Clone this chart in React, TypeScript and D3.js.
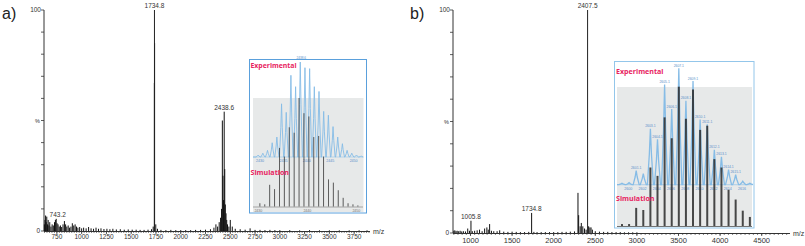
import * as d3 from "d3"

// ---- panel a: main spectrum [m/z, %] ----
const spectrumA: [number, number][] = [
  [624, 3], [630, 5], [636, 7], [642, 4], [648, 6.5], [655, 3], [662, 5], [670, 2.5], [678, 4], [690, 2],
  [702, 3], [714, 2.5], [726, 4], [735, 5], [743.2, 5.5], [752, 3.5], [762, 3], [774, 2], [786, 2.5], [798, 1.8],
  [812, 3], [826, 4.5], [838, 3], [850, 2], [864, 2.5], [878, 1.5], [892, 2], [906, 3.5], [920, 2.5], [934, 3],
  [948, 2], [962, 1.5], [980, 1.8], [1000, 1.2], [1020, 1.5], [1045, 1.2], [1070, 1.8], [1095, 1.2], [1120, 1],
  [1145, 1.5], [1170, 1], [1195, 1.2], [1225, 0.9], [1255, 1], [1285, 0.8], [1315, 1], [1350, 0.7], [1390, 0.8],
  [1430, 0.6], [1470, 0.7], [1510, 0.6], [1550, 0.6], [1590, 0.5], [1630, 0.5], [1670, 0.6], [1705, 0.8], [1722, 2],
  [1733.8, 67], [1736.2, 85], [1734.8, 100], [1748, 3], [1765, 1], [1800, 0.5], [1850, 0.4], [1900, 0.5], [1950, 0.4],
  [2000, 0.4], [2050, 0.4], [2100, 0.4], [2150, 0.5], [2200, 0.5], [2250, 0.6], [2300, 0.8], [2335, 1.5], [2355, 3],
  [2372, 2], [2388, 4], [2402, 6], [2412, 10], [2420, 50], [2426, 25], [2432, 14], [2438.6, 54], [2444, 28],
  [2450, 12], [2457, 8], [2464, 5], [2472, 3], [2486, 2], [2500, 5], [2520, 2], [2550, 1], [2600, 0.8], [2650, 0.6],
  [2700, 1.2], [2750, 0.5], [2800, 0.5], [2850, 0.4], [2900, 0.5], [2950, 0.4], [3000, 0.4], [3100, 0.4],
  [3200, 0.3], [3300, 0.4], [3400, 0.3], [3500, 0.3], [3600, 0.3], [3700, 0.3], [3800, 0.3], [3880, 0.3],
]
const peakLabelsA = ["743.2", "1734.8", "2438.6"]
const ticksA = [750, 1000, 1250, 1500, 1750, 2000, 2250, 2500, 2750, 3000, 3250, 3500, 3750]

// ---- panel b: main spectrum [m/z, %] ----
const spectrumB: [number, number][] = [
  [800, 1], [812, 1.2], [826, 0.8], [840, 1], [858, 0.8], [876, 1], [895, 0.7], [915, 0.8], [940, 0.7], [967, 2],
  [988, 1], [1005.8, 5.5], [1022, 0.8], [1050, 1], [1080, 1.2], [1109, 1.5], [1140, 0.8], [1170, 2], [1197, 2.5],
  [1214, 1.5], [1230, 4], [1252, 1], [1280, 0.8], [1320, 0.8], [1351, 1.2], [1400, 0.6], [1450, 0.5], [1500, 0.6],
  [1550, 0.5], [1600, 0.4], [1650, 0.4], [1700, 0.5], [1734.8, 9], [1762, 0.5], [1800, 0.4], [1850, 0.4], [1900, 0.4],
  [1950, 0.4], [2000, 0.4], [2050, 0.4], [2100, 0.5], [2150, 0.5], [2200, 0.6], [2250, 0.7], [2292, 18], [2300, 8],
  [2318, 3], [2332, 4.5], [2350, 3], [2370, 2], [2390, 1.5], [2407.5, 100], [2420, 3], [2435, 2.5], [2449, 2.5],
  [2465, 1.5], [2500, 0.8], [2550, 0.6], [2600, 0.5], [2650, 0.5], [2700, 0.4], [2750, 0.4], [2800, 0.4],
  [2850, 0.3], [2900, 0.3], [2950, 0.3], [3000, 0.3],
]
const peakLabelsB = ["1005.8", "1734.8", "2407.5"]
const ticksB = [1000, 1500, 2000, 2500, 3000, 3500, 4000, 4500]

// ---- inset a: isotope pattern ----
const insetAExpMz = [2429.6, 2430.6, 2431.6, 2432.6, 2433.6, 2434.6, 2435.6, 2436.6, 2437.6, 2438.6, 2439.6, 2440.6,
  2441.6, 2442.6, 2443.6, 2444.6, 2445.6, 2446.6, 2447.6, 2448.6, 2449.6, 2450.6, 2451.6]
const insetAExp = [2, 4, 7, 15, 21, 56, 47, 86, 74, 100, 94, 93, 74, 69, 48, 44, 32, 21, 14, 7, 4, 2, 1]
const insetASimMz = [2430.3, 2431.3, 2432.3, 2433.3, 2434.3, 2435.3, 2436.3, 2437.3, 2438.3, 2439.3, 2440.3,
  2441.3, 2442.3, 2443.3, 2444.3, 2445.3, 2446.3, 2447.3, 2448.3, 2449.3, 2450.3]
const insetASim = [3, 2, 20, 16, 54, 46, 73, 68, 100, 86, 83, 64, 65, 46, 25, 22, 15, 8, 3, 2, 1]
const insetAExpTicks = [2430, 2435, 2440, 2445, 2450]
const insetASimTicks = [2430, 2440, 2450]

// ---- inset b: isotope pattern ----
const insetBMz = [2599.1, 2600.1, 2601.1, 2602.1, 2603.1, 2604.1, 2605.1, 2606.1, 2607.1, 2608.1, 2609.1,
  2610.1, 2611.1, 2612.1, 2613.1, 2614.1, 2615.1, 2616.1, 2617.1]
const insetBExp = [1.3, 1.7, 12, 9.5, 48, 39, 86, 65, 100, 72, 89, 56, 52, 30, 24, 13, 8.6, 3, 1.3]
const insetBSim = [1.4, 1.4, 13, 11.5, 42, 36, 78, 63, 100, 77, 98, 69, 72, 48, 42, 26, 19, 11, 6.5]
const insetBLabelled = [2601.1, 2603.1, 2604.1, 2605.1, 2606.1, 2607.1, 2608.1, 2609.1, 2610.1, 2611.1,
  2612.1, 2613.1, 2614.1, 2615.1]
const insetBTicks = [2600, 2602, 2604, 2606, 2608, 2610, 2612, 2614, 2616]

const AX = "#333"
const PINK = "#e8245f"
const EXP = "#86bce6"
const SANS = "Liberation Sans, Arial, sans-serif"
const INSET_FONT = "Open Sans, Noto Sans, sans-serif"

type Panel = {
  data: [number, number][]
  labels: string[]
  ticks: number[]
  domain: [number, number]
  xRange: [number, number]
  yRange: [number, number]
  minorStep: number
  tickFont: number
  tickDy: number
}

function Spectrum({ data, labels, ticks, domain, xRange, yRange, minorStep, tickFont, tickDy }: Panel) {
  const x = d3.scaleLinear().domain(domain).range(xRange)
  const y = d3.scaleLinear().domain([0, 100]).range(yRange)
  const base = y(0)
  const minor = d3.range(Math.ceil(domain[0] / minorStep) * minorStep, domain[1], minorStep)
  const yTicks = d3.range(0, 101, 10)
  return (
    <g>
      {/* y axis */}
      <line x1={xRange[0]} x2={xRange[0]} y1={y(100)} y2={base} stroke={AX} strokeWidth={1} />
      {yTicks.map((t) => (
        <line key={t} x1={xRange[0] - 3} x2={xRange[0]} y1={y(t)} y2={y(t)} stroke={AX} strokeWidth={0.8} />
      ))}
      <text x={xRange[0] - 3} y={y(100) + 2.2} fontSize={6.5} textAnchor="end" fill={AX}>100</text>
      <text x={xRange[0] - 4} y={y(50) + 2.2} fontSize={5.5} textAnchor="end" fill={AX}>%</text>
      <text x={xRange[0] - 4} y={base + 2.2} fontSize={6.5} textAnchor="end" fill={AX}>0</text>
      {/* x axis */}
      <line x1={xRange[0]} x2={xRange[1]} y1={base + 0.5} y2={base + 0.5} stroke={AX} strokeWidth={1} />
      {minor.map((t) => (
        <line key={t} x1={x(t)} x2={x(t)} y1={base} y2={base + 2} stroke={AX} strokeWidth={0.6} />
      ))}
      {ticks.map((t) => (
        <g key={t}>
          <line x1={x(t)} x2={x(t)} y1={base} y2={base + 3} stroke={AX} strokeWidth={0.8} />
          <text x={x(t)} y={base + tickDy} fontSize={tickFont} textAnchor="middle" fill={AX}>{t}</text>
        </g>
      ))}
      <text x={xRange[1] + 3} y={base + 2.5} fontSize={7} fill={AX}>m/z</text>
      {/* sticks */}
      {data.map(([m, v], i) => (
        <line key={i} x1={x(m)} x2={x(m)} y1={base} y2={y(v)} stroke={v > 80 ? "#222" : "#111"} strokeWidth={1} />
      ))}
      {labels.map((l) => {
        const m = +l
        const pk = data.filter((d) => Math.abs(d[0] - m) < 2)
        const v = d3.max(pk, (d) => d[1]) ?? 0
        return (
          <text key={l} x={x(m) + (m < 800 ? 1.5 : 0)} y={y(v) - 2} fontSize={6.5} textAnchor="middle" fill={AX}>{l}</text>
        )
      })}
    </g>
  )
}

function expPath(mz: number[], vals: number[], x: d3.ScaleLinear<number, number>, y: d3.ScaleLinear<number, number>, w: number, x0: number, x1: number) {
  const pts: [number, number][] = [[x0, y(0)]]
  mz.forEach((m, i) => {
    pts.push([x(m) - w, y(0)], [x(m) - w * 0.35, y(vals[i] * 0.55)], [x(m), y(vals[i])], [x(m) + w * 0.35, y(vals[i] * 0.55)], [x(m) + w, y(0)])
  })
  pts.push([x1, y(0)])
  return d3.line()(pts) ?? ""
}

function InsetA() {
  const box = { x: 249.5, y: 59.5, w: 117, h: 153.5 }
  const ex = d3.scaleLinear().domain([2428.5, 2452]).range([253, 363])
  const ey = d3.scaleLinear().domain([0, 100]).range([157, 62])
  const sx = d3.scaleLinear().domain([2428.9, 2450.9]).range([253, 360.8])
  const sy = d3.scaleLinear().domain([0, 100]).range([206.5, 98])
  return (
    <g>
      <rect x={box.x} y={box.y} width={box.w} height={box.h} fill="#fff" stroke="#5aa0dc" strokeWidth={1} />
      <rect x={253} y={98} width={110.5} height={114} fill="#e7e9e9" />
      <line x1={253} x2={363} y1={sy(0) + 0.5} y2={sy(0) + 0.5} stroke="#777" strokeWidth={0.6} />
      {insetASimTicks.map((t) => (
        <text key={t} x={sx(t)} y={211.5} fontSize={3.6} textAnchor="middle" fill="#777" fontFamily={SANS}>{t}</text>
      ))}
      <path d={expPath(insetAExpMz, insetAExp, ex, ey, 2.1, 253, 363)} fill="none" stroke={EXP} strokeWidth={0.9} />
      <line x1={253} x2={363} y1={ey(0)} y2={ey(0)} stroke={EXP} strokeWidth={0.5} />
      {insetAExpTicks.map((t) => (
        <text key={t} x={ex(t)} y={162} fontSize={3.6} textAnchor="middle" fill="#5a8fc9" fontFamily={SANS}>{t}</text>
      ))}
      <text x={ex(2438.6) + 1} y={ey(100) - 2.6} fontSize={3.2} textAnchor="middle" fill="#5a8fc9" fontFamily={SANS}>2438.6</text>
      {insetASimMz.map((m, i) => (
        <line key={m} x1={sx(m)} x2={sx(m)} y1={sy(0)} y2={sy(insetASim[i])} stroke="#2e2e2e" strokeWidth={0.9} opacity={0.85} />
      ))}
      <text x={250.5} y={67.5} fontSize={6.9} fontWeight={700} fill={PINK} fontFamily={INSET_FONT}>Experimental</text>
      <text x={250.5} y={174.5} fontSize={7.1} fontWeight={700} fill={PINK} fontFamily={INSET_FONT}>Simulation</text>
    </g>
  )
}

function InsetB() {
  const box = { x: 614.5, y: 61.5, w: 139.5, h: 166.5 }
  const ex = d3.scaleLinear().domain([2598.4, 2617.4]).range([617, 752])
  const ey = d3.scaleLinear().domain([0, 100]).range([184.7, 68.3])
  const sy = d3.scaleLinear().domain([0, 100]).range([226, 86.7])
  return (
    <g>
      <rect x={box.x} y={box.y} width={box.w} height={box.h} fill="#fff" stroke="#93c6ea" strokeWidth={1} />
      <rect x={617} y={87} width={135} height={140} fill="#e7e9e9" />
      <line x1={617} x2={752} y1={sy(0) + 0.5} y2={sy(0) + 0.5} stroke="#555" strokeWidth={0.8} />
      <path d={expPath(insetBMz, insetBExp, ex, ey, 3, 617, 752)} fill="none" stroke={EXP} strokeWidth={1.3} />
      <line x1={617} x2={752} y1={ey(0)} y2={ey(0)} stroke={EXP} strokeWidth={0.6} />
      {insetBTicks.map((t) => (
        <text key={t} x={ex(t)} y={190} fontSize={3.6} textAnchor="middle" fill="#5a8fc9" fontFamily={SANS}>{t}</text>
      ))}
      {insetBLabelled.map((m) => {
        const i = insetBMz.indexOf(m)
        return (
          <text key={m} x={ex(m)} y={ey(insetBExp[i]) - 1.5} fontSize={3.4} textAnchor="middle" fill="#5a8fc9" fontFamily={SANS}>{m.toFixed(1)}</text>
        )
      })}
      {insetBMz.map((m, i) => (
        <line key={m} x1={ex(m)} x2={ex(m)} y1={sy(0)} y2={sy(insetBSim[i])} stroke="#2b2b2b" strokeWidth={2} opacity={0.85} />
      ))}
      <text x={616} y={73.5} fontSize={7.1} fontWeight={700} fill={PINK} fontFamily={INSET_FONT}>Experimental</text>
      <text x={616} y={200.5} fontSize={7.1} fontWeight={700} fill={PINK} fontFamily={INSET_FONT}>Simulation</text>
    </g>
  )
}

export default function App() {
  return (
    <svg width={805} height={246} style={{ position: "absolute", left: 0, top: 0, background: "#fff" }} fontFamily={SANS}>
      <text x={2} y={19} fontSize={16} fill="#222">a)</text>
      <text x={410} y={19} fontSize={16} fill="#222">b)</text>
      <Spectrum
        data={spectrumA}
        labels={peakLabelsA}
        ticks={ticksA}
        domain={[620, 3910]}
        xRange={[44, 370]}
        yRange={[231, 10]}
        minorStep={25}
        tickFont={6.5}
        tickDy={8}
      />
      <Spectrum
        data={spectrumB}
        labels={peakLabelsB}
        ticks={ticksB}
        domain={[790, 4840]}
        xRange={[453, 790]}
        yRange={[233, 10]}
        minorStep={50}
        tickFont={7.5}
        tickDy={10}
      />
      <InsetA />
      <InsetB />
    </svg>
  )
}
